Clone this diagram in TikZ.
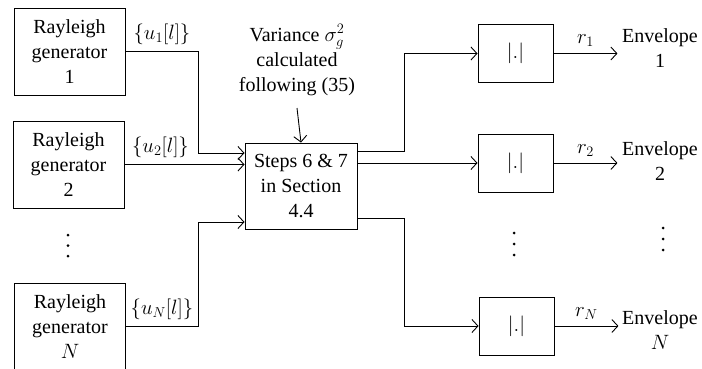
\documentclass[tikz,border=0pt]{standalone}
\usepackage{fontspec}
\setmainfont{Liberation Serif}
\usetikzlibrary{arrows.meta}
\begin{document}
\begin{tikzpicture}[x=1pt,y=-1pt,
  font=\fontsize{20}{25}\selectfont, line width=0.9pt,
  blk/.style={draw, rectangle, align=center, inner sep=0pt},
  gen/.style={blk, minimum width=111pt, minimum height=87pt},
  absb/.style={blk, minimum width=75pt, minimum height=58pt},
  txt/.style={align=center, inner sep=0pt},
  arr/.style={-{Straight Barb[length=6pt,width=13pt]}},
  dotsv/.style={fill}]
\useasboundingbox (0,0) rectangle (702,369);
% generators
\node[gen] (g1) at (69.5,51.5) {Rayleigh\\generator\\1};
\node[gen] (g2) at (68.5,164.5) {Rayleigh\\generator\\2};
\node[gen] (gN) at (70,326.5) {Rayleigh\\generator\\$N$};
\foreach \yy in {235,245.5,256} \fill (68,\yy) circle (1.5pt);
% central block
\node[blk, minimum width=112pt, minimum height=86pt] (c) at (301,186) {Steps 6 \& 7\\in Section\\4.4};
\node[txt] (v) at (297,60) {Variance $\sigma_g^2$\\calculated\\following (35)};
\draw[arr] ([yshift=-12pt]v.south) -- (c.north);
% inputs
\draw[arr] (g1.east) -- ++(73,0) node[midway,above=3pt] (l1) {$\{u_1[l]\}$} |- ([yshift=33pt]c.west);
\draw[arr] (g2.east) -- (c.west |- g2.east) node[pos=0.3,above=3pt] (l2) {$\{u_2[l]\}$};
\draw[arr] (gN.east) -- ++(72,0) node[midway,above=3pt] (lN) {$\{u_N[l]\}$} |- ([yshift=-36pt]c.west);
% abs blocks
\node[absb] (a1) at (515.5,53.5) {$|.|$};
\node[absb] (a2) at (515.5,163) {$|.|$};
\node[absb] (aN) at (516.5,326) {$|.|$};
\foreach \yy in {233,244,255} \fill (514,\yy) circle (1.5pt);
\draw[arr] ([yshift=35pt]c.east) -- ++(47,0) |- (a1.west);
\draw[arr] (c.east |- a2.west) -- (a2.west);
\draw[arr] ([yshift=-32pt]c.east) -- ++(47,0) |- (aN.west);
% envelopes
\node[txt] (e1) at (660,48.5) {Envelope\\1};
\node[txt] (e2) at (660,161.5) {Envelope\\2};
\node[txt] (eN) at (660,330) {Envelope\\$N$};
\foreach \yy in {228,239,250} \fill (663,\yy) circle (1.5pt);
\draw[arr] (a1.east) -- ++(64,0) node[midway,above=3pt] (r1) {$r_1$};
\draw[arr] (a2.east) -- ++(64,0) node[midway,above=3pt] (r2) {$r_2$};
\draw[arr] (aN.east) -- ++(64,0) node[midway,above=3pt] (rN) {$r_N$};
\end{tikzpicture}
\end{document}
